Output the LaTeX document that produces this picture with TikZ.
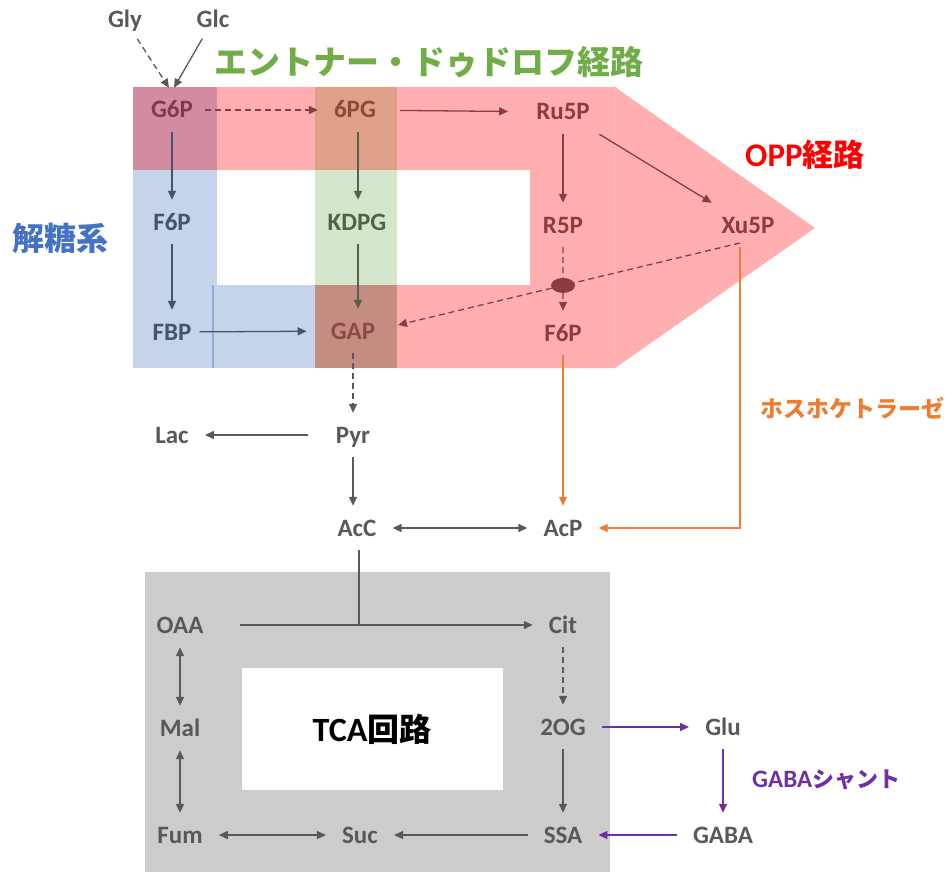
\documentclass[tikz,border=0pt]{standalone}
\usepackage{fontspec}
\setmainfont{Carlito}
\newfontfamily\jp{Noto Sans CJK JP}
\usetikzlibrary{arrows.meta,calc,shapes.geometric}
\definecolor{redfill}{HTML}{FFAFAF}
\definecolor{bluefill}{HTML}{C5D3EB}
\definecolor{blueline}{HTML}{8FAADC}
\definecolor{greenfill}{HTML}{D3E6CB}
\definecolor{gsixbox}{HTML}{D38C9F}
\definecolor{pgbox}{HTML}{DFA088}
\definecolor{gapbox}{HTML}{C58C81}
\definecolor{dred}{HTML}{8E3B3B}
\definecolor{bgray}{HTML}{44546A}
\definecolor{ggray}{HTML}{56604F}
\definecolor{tgray}{HTML}{595959}
\definecolor{orng}{HTML}{ED7D31}
\definecolor{purp}{HTML}{7030A0}
\definecolor{ttlgreen}{HTML}{70AD47}
\definecolor{ttlblue}{HTML}{4472C4}
\definecolor{boxgray}{HTML}{CCCCCC}
\definecolor{seam}{HTML}{FFB9B9}
\definecolor{gsixtext}{HTML}{7E3A50}
\definecolor{pgtext}{HTML}{8B4A3A}
\definecolor{kdpgtext}{HTML}{4E6446}
\definecolor{gaptext}{HTML}{8E4848}
\tikzset{
  lab/.style={font=\bfseries\fontsize{25}{25}\selectfont, text=tgray, inner xsep=16pt, inner ysep=14pt, text height=16pt, text depth=0pt},
  arr/.style={line width=1.3pt, draw=tgray, -{Triangle[length=9pt,width=8pt]}},
  darr/.style={line width=1.3pt, draw=tgray, {Triangle[length=9pt,width=8pt]}-{Triangle[length=9pt,width=8pt]}},
  dsh/.style={dash pattern=on 6pt off 4pt},
  ttl/.style={font=\jp\bfseries\fontsize{#1}{#1}\selectfont, inner sep=0pt},
}
\begin{document}
\begin{tikzpicture}[x=1pt,y=-1pt]
\useasboundingbox (0,0) rectangle (950,872);
% ---- background shapes
\fill[redfill] (217,87) -- (615,87) -- (815,228) -- (615,368) -- (397,368) -- (397,285) -- (530,285) -- (530,170) -- (217,170) -- cycle;
\draw[seam, line width=0.8pt] (615,87) -- (615,368);
\fill[bluefill] (133,170) rectangle (217,368);
\fill[bluefill] (213,285) rectangle (315,368);
\draw[blueline, line width=1.5pt] (213,285) -- (213,368);
\fill[greenfill] (315,170) rectangle (397,285);
\fill[gsixbox] (133,87) rectangle (217,170);
\fill[pgbox] (315,87) rectangle (397,170);
\fill[gapbox] (315,285) rectangle (397,368);
\fill[boxgray] (145,572) rectangle (610,872);
\fill[white] (242,668) rectangle (503,790);
% ---- titles
\node[ttl=33, text=ttlgreen, anchor=west] (ed) at (214,62) {エントナー・ドゥドロフ経路};
\node[ttl=31, text=red, anchor=west] (opp) at (745,155) {{\rmfamily\bfseries\fontsize{33}{33}\selectfont OPP}経路};
\node[ttl=32, text=ttlblue, anchor=west] (glyc) at (12,238) {解糖系};
\node[ttl=23, text=orng, anchor=west] (pk) at (760,408) {ホスホケトラーゼ};
\node[ttl=22, text=purp, anchor=west] (gs) at (752,780) {{\rmfamily\bfseries\fontsize{25}{25}\selectfont GABA}シャント};
\node[ttl=32, text=black, anchor=center] (tca) at (372,729) {{\rmfamily\bfseries\fontsize{34}{34}\selectfont TCA}回路};
% ---- metabolite nodes
\node[lab] (gly) at (125,20) {Gly};
\node[lab] (glc) at (213,20) {Glc};
\node[lab, text=gsixtext] (g6p) at (172,110) {G6P};
\node[lab, text=pgtext] (pg6) at (355,110) {6PG};
\node[lab, text=dred] (ru5p) at (563,112) {Ru5P};
\node[lab, text=bgray] (f6pl) at (172,222) {F6P};
\node[lab, text=kdpgtext] (kdpg) at (357,222) {KDPG};
\node[lab, text=dred] (r5p) at (563,225) {R5P};
\node[lab, text=dred] (xu5p) at (748,225) {Xu5P};
\node[lab, text=bgray] (fbp) at (172,332) {FBP};
\node[lab, text=gaptext] (gap) at (353,331) {GAP};
\node[lab, text=dred] (f6pr) at (563,333) {F6P};
\node[lab] (pyr) at (353,435) {Pyr};
\node[lab] (lac) at (172,435) {Lac};
\node[lab] (acc) at (357,528) {AcC};
\node[lab] (acp) at (563,528) {AcP};
\node[lab] (oaa) at (180,625) {OAA};
\node[lab] (cit) at (563,625) {Cit};
\node[lab] (mal) at (180,728) {Mal};
\node[lab] (og) at (563,727) {2OG};
\node[lab] (fum) at (180,835) {Fum};
\node[lab] (suc) at (360,835) {Suc};
\node[lab] (ssa) at (563,835) {SSA};
\node[lab] (glu) at (723,727) {Glu};
\node[lab] (gaba) at (723,835) {GABA};
% ---- pentose cross-over line ends and crossing ellipse
\coordinate (xs) at ($(xu5p)+(-8,18)$);
\coordinate (ge) at ($(gap)+(45,-6)$);
\node[fill=dred, ellipse, minimum width=24pt, minimum height=15pt, inner sep=0pt] (cross) at ($(xs)!0.5175!(ge)$) {};
% ---- connectors
\draw[arr, dsh, shorten <=-4pt] (gly) -- ([xshift=-3pt]g6p.north);
\draw[arr, shorten <=-4pt] (glc) -- ([xshift=2pt]g6p.north);
\draw[arr, dsh, draw=dred, shorten <=-4pt] (g6p) -- (pg6);
\draw[arr, draw=dred, shorten <=8pt, shorten >=12pt] (pg6) -- (ru5p);
\draw[arr, draw=dred] (ru5p) -- (r5p);
\draw[arr, draw=dred] (ru5p) -- (xu5p);
\draw[arr, draw=bgray] (g6p) -- (f6pl);
\draw[arr, draw=bgray] (f6pl) -- (fbp);
\draw[arr, draw=bgray, shorten <=-8pt, shorten >=8pt] (fbp) -- (gap);
\draw[arr, draw=ggray] ([xshift=3pt]pg6.south) -- ([xshift=1pt]kdpg.north);
\draw[arr, draw=ggray] ([xshift=1pt]kdpg.south) -- ([xshift=5pt]gap.north);
\draw[arr, dsh, draw=dred] (r5p) -- (cross) -- (f6pr);
\draw[arr, dsh, draw=dred] (xs) -- (cross) -- (ge);
\draw[arr, dsh] (gap) -- (pyr);
\draw[arr, shorten <=12pt] (pyr) -- (lac);
\draw[arr] (pyr) -- (pyr |- acc.north);
\draw[darr] (acc) -- (acp);
\draw[arr, draw=orng] (f6pr) -- (acp);
\draw[arr, draw=orng] ([xshift=-8pt]xu5p.south) |- (acp.east);
\coordinate (jn) at ($(acc |- oaa)+(2,0)$);
\draw[line width=1.3pt, draw=tgray] ([xshift=2pt]acc.south) -- (jn);
\draw[arr, shorten <=20pt] (oaa) -- (cit);
\draw[arr, dsh] (cit) -- (og);
\draw[arr] (og) -- (ssa);
\draw[arr] (ssa) -- (suc);
\draw[darr] (fum) -- (suc);
\draw[darr] (oaa) -- (mal);
\draw[darr] (mal) -- (fum);
\draw[arr, draw=purp] (og) -- (glu);
\draw[arr, draw=purp] (glu) -- (gaba);
\draw[arr, draw=purp] (gaba) -- (ssa);
\end{tikzpicture}
\end{document}
